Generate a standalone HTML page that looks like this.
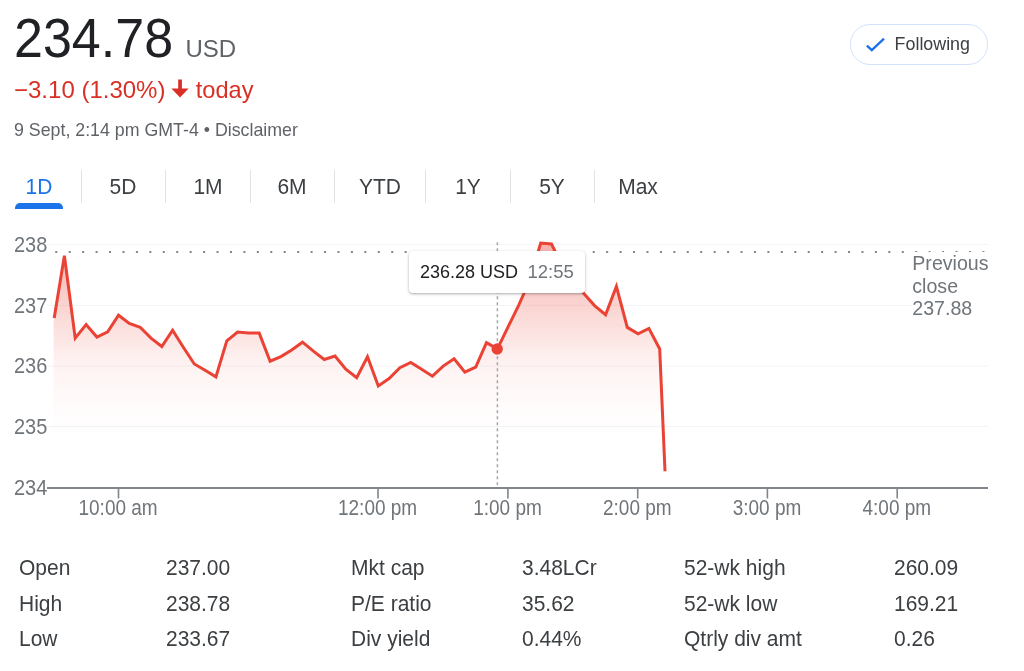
<!DOCTYPE html>
<html><head><meta charset="utf-8">
<style>
*{margin:0;padding:0;box-sizing:border-box}
html,body{width:1024px;height:671px;overflow:hidden;background:#fff}
body{position:relative;font-family:"Liberation Sans",Arial,sans-serif;color:#202124}
.a{position:absolute;white-space:nowrap}
#price{left:14px;top:4px;font-size:52px;line-height:68px;color:#202124;transform:scaleY(1.05);transform-origin:0 27.4px}
#usd{left:185.5px;top:33.6px;font-size:24px;line-height:30px;color:#5f6368}
#chg{left:14px;top:75.6px;font-size:24px;line-height:28px;color:#d93025}
#today{left:195.8px;top:75.6px;font-size:23.6px;line-height:28px;color:#d93025}
#date{left:14px;top:118.5px;font-size:17.8px;line-height:22px;color:#5f6368}
#follow{left:850px;top:24px;width:138px;height:41px;border:1px solid #d2e3fc;border-radius:20px}
#follow span{position:absolute;left:43.6px;top:8px;font-size:17.85px;line-height:22px;color:#3c4043}
.tab{position:absolute;top:174px;font-size:21px;line-height:24px;color:#3c4043;transform:translateX(-50%) scaleY(1.05);transform-origin:50% 4.8px}
.sep{position:absolute;top:170px;width:1px;height:33px;background:#e2e3e5}
.yl{position:absolute;left:0;width:47px;text-align:left;font-size:20px;line-height:22px;color:#70757a;transform:scaleY(1.08);transform-origin:0 11px}
.xl{position:absolute;top:496px;font-size:19px;line-height:22px;color:#70757a;transform:translateX(-50%) scaleY(1.15);transform-origin:50% 4.5px}
#prev{left:912.3px;top:252px;font-size:19.6px;line-height:22.7px;color:#70757a;background:#fff;width:80px}
#tip{left:409px;top:251px;width:176px;height:42px;background:#fff;border-radius:4px;box-shadow:0 1px 3px rgba(60,64,67,.3),0 1px 2px rgba(60,64,67,.15)}
#tip .p{position:absolute;left:11px;top:10px;font-size:18px;line-height:22px;color:#202124}
#tip .t{position:absolute;left:118.5px;top:10px;font-size:18.5px;line-height:22px;color:#70757a}
.k{position:absolute;font-size:21px;line-height:24px;color:#3c4043;transform:scaleY(1.08);transform-origin:0 19.3px}
</style></head><body>
<div class="a" id="price">234.78</div>
<div class="a" id="usd">USD</div>
<div class="a" id="chg">−3.10 (1.30%)</div>
<svg class="a" style="left:170px;top:79px" width="20" height="20" viewBox="170 79 20 20"><path d="M178.2 79.5 H181.9 V88.4 H188.6 L180.05 97.5 L171.4 88.4 H178.2 Z" fill="#d93025"/></svg>
<div class="a" id="today">today</div>
<div class="a" id="date">9 Sept, 2:14 pm GMT-4 • Disclaimer</div>
<div class="a" id="follow"><svg style="position:absolute;left:15px;top:13px" width="20" height="15" viewBox="0 0 20 15"><path d="M0.9 7.6 L5.8 12.2 L18.0 0.6" fill="none" stroke="#1a73e8" stroke-width="2.3"/></svg><span>Following</span></div>

<div class="tab" style="left:39px;color:#1a73e8">1D</div>
<div style="position:absolute;left:15px;top:203px;width:48px;height:6px;background:#1a73e8;border-radius:5px 5px 0 0"></div>
<div class="sep" style="left:80.5px"></div>
<div class="tab" style="left:123px">5D</div>
<div class="sep" style="left:165.3px"></div>
<div class="tab" style="left:208px">1M</div>
<div class="sep" style="left:250px"></div>
<div class="tab" style="left:292px">6M</div>
<div class="sep" style="left:334.4px"></div>
<div class="tab" style="left:380px">YTD</div>
<div class="sep" style="left:425.2px"></div>
<div class="tab" style="left:468px">1Y</div>
<div class="sep" style="left:509.6px"></div>
<div class="tab" style="left:552px">5Y</div>
<div class="sep" style="left:594.4px"></div>
<div class="tab" style="left:638px">Max</div>

<svg class="a" style="left:0;top:0" width="1024" height="671" viewBox="0 0 1024 671">
<defs>
<linearGradient id="g" gradientUnits="userSpaceOnUse" x1="0" y1="242" x2="0" y2="440">
<stop offset="0" stop-color="#ea4335" stop-opacity="0.42"/>
<stop offset="0.3" stop-color="#ea4335" stop-opacity="0.24"/>
<stop offset="0.6" stop-color="#ea4335" stop-opacity="0.07"/>
<stop offset="0.85" stop-color="#ea4335" stop-opacity="0.015"/>
<stop offset="1" stop-color="#ea4335" stop-opacity="0"/>
</linearGradient>
</defs>
<g fill="#f3f4f6">
<rect x="47" y="244" width="941" height="1"/>
<rect x="47" y="305" width="941" height="1"/>
<rect x="47" y="365.6" width="941" height="1"/>
<rect x="47" y="426" width="941" height="1"/>
</g>
<path fill="url(#g)" d="M54.2,318.0 L64.4,255.8 L75.2,338.1 L86.1,324.5 L96.9,337.1 L107.7,331.9 L118.5,315.2 L129.3,323.5 L140.2,327.3 L151.0,338.1 L161.8,346.5 L172.6,330.2 L183.5,347.5 L194.3,364.0 L205.1,370.3 L215.9,376.9 L226.8,340.9 L237.6,332.0 L248.4,333.1 L259.2,333.1 L270.1,361.2 L280.9,356.6 L291.7,350.0 L302.5,342.2 L313.4,351.2 L324.2,359.5 L335.0,356.1 L345.8,369.2 L356.7,377.8 L367.5,356.7 L378.3,385.9 L389.1,378.6 L399.9,367.7 L410.8,362.5 L421.6,369.2 L432.4,376.2 L443.2,366.1 L454.1,358.8 L464.9,372.2 L475.7,367.2 L486.5,342.6 L497.4,348.8 L508.2,326.7 L519.0,304.6 L529.8,280.0 L540.7,243.0 L551.5,244.0 L562.3,266.0 L573.1,282.0 L584.0,293.8 L594.8,305.8 L605.6,314.7 L616.4,286.4 L627.3,327.4 L638.1,333.8 L648.9,328.4 L659.7,349.0 L665.0,470.5 L665.0,487 L53.6,487 L53.6,318.0 Z"/>
<line x1="55.3" y1="252" x2="990" y2="252" stroke="#80868b" stroke-width="2" stroke-dasharray="2 11.436"/>
<line x1="497.4" y1="242.3" x2="497.4" y2="487" stroke="#a4a7ab" stroke-width="1.5" stroke-dasharray="3 3"/>
<path fill="none" stroke="#ea4335" stroke-width="3" stroke-linejoin="miter" d="M54.2,318.0 L64.4,255.8 L75.2,338.1 L86.1,324.5 L96.9,337.1 L107.7,331.9 L118.5,315.2 L129.3,323.5 L140.2,327.3 L151.0,338.1 L161.8,346.5 L172.6,330.2 L183.5,347.5 L194.3,364.0 L205.1,370.3 L215.9,376.9 L226.8,340.9 L237.6,332.0 L248.4,333.1 L259.2,333.1 L270.1,361.2 L280.9,356.6 L291.7,350.0 L302.5,342.2 L313.4,351.2 L324.2,359.5 L335.0,356.1 L345.8,369.2 L356.7,377.8 L367.5,356.7 L378.3,385.9 L389.1,378.6 L399.9,367.7 L410.8,362.5 L421.6,369.2 L432.4,376.2 L443.2,366.1 L454.1,358.8 L464.9,372.2 L475.7,367.2 L486.5,342.6 L497.4,348.8 L508.2,326.7 L519.0,304.6 L529.8,280.0 L540.7,243.0 L551.5,244.0 L562.3,266.0 L573.1,282.0 L584.0,293.8 L594.8,305.8 L605.6,314.7 L616.4,286.4 L627.3,327.4 L638.1,333.8 L648.9,328.4 L659.7,349.0 L665.0,471.3"/>
<circle cx="497.2" cy="349" r="5.7" fill="#ea4335"/>
<rect x="47" y="487" width="941" height="2" fill="#80868b"/>
<g fill="#80868b">
<rect x="117.7" y="489" width="1.6" height="9.5"/>
<rect x="377.2" y="489" width="1.6" height="9.5"/>
<rect x="507.1" y="489" width="1.6" height="9.5"/>
<rect x="636.9" y="489" width="1.6" height="9.5"/>
<rect x="766.6" y="489" width="1.6" height="9.5"/>
<rect x="896.4" y="489" width="1.6" height="9.5"/>
</g>
</svg>

<div class="yl" style="top:233px;left:14px">238</div>
<div class="yl" style="top:294px;left:14px">237</div>
<div class="yl" style="top:354.4px;left:14px">236</div>
<div class="yl" style="top:415px;left:14px">235</div>
<div class="yl" style="top:476px;left:14px">234</div>

<div class="xl" style="left:118.1px">10:00 am</div>
<div class="xl" style="left:377.6px">12:00 pm</div>
<div class="xl" style="left:507.5px">1:00 pm</div>
<div class="xl" style="left:637.3px">2:00 pm</div>
<div class="xl" style="left:767.0px">3:00 pm</div>
<div class="xl" style="left:896.8px">4:00 pm</div>

<div class="a" id="prev">Previous<br>close<br>237.88</div>

<div class="a" id="tip"><span class="p">236.28 USD</span><span class="t">12:55</span></div>

<div class="k" style="left:19px;top:555.6px">Open</div>
<div class="k" style="left:166px;top:555.6px">237.00</div>
<div class="k" style="left:351px;top:555.6px">Mkt cap</div>
<div class="k" style="left:522px;top:555.6px">3.48LCr</div>
<div class="k" style="left:684px;top:555.6px">52-wk high</div>
<div class="k" style="left:894px;top:555.6px">260.09</div>

<div class="k" style="left:19px;top:591.6px">High</div>
<div class="k" style="left:166px;top:591.6px">238.78</div>
<div class="k" style="left:351px;top:591.6px">P/E ratio</div>
<div class="k" style="left:522px;top:591.6px">35.62</div>
<div class="k" style="left:684px;top:591.6px">52-wk low</div>
<div class="k" style="left:894px;top:591.6px">169.21</div>

<div class="k" style="left:19px;top:626.8px">Low</div>
<div class="k" style="left:166px;top:626.8px">233.67</div>
<div class="k" style="left:351px;top:626.8px">Div yield</div>
<div class="k" style="left:522px;top:626.8px">0.44%</div>
<div class="k" style="left:684px;top:626.8px">Qtrly div amt</div>
<div class="k" style="left:894px;top:626.8px">0.26</div>
</body></html>
